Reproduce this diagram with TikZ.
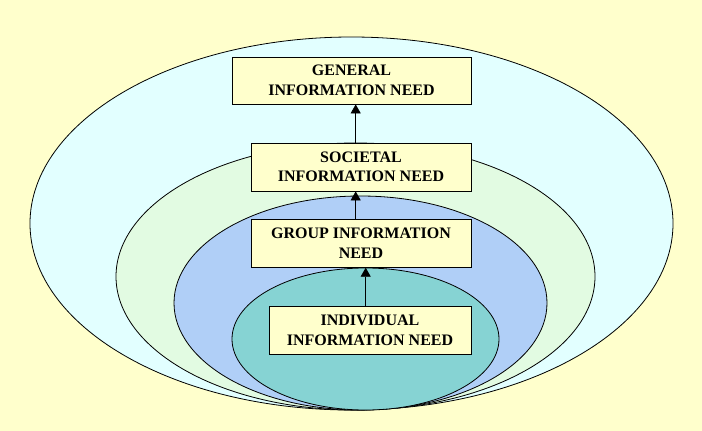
\documentclass[tikz,border=0pt]{standalone}
\usepackage{fontspec}
\setmainfont{Liberation Serif}
\usetikzlibrary{arrows.meta}
\definecolor{pagebg}{HTML}{FFFFCC}
\definecolor{ringA}{HTML}{E2FFFF}
\definecolor{ringB}{HTML}{E2FBE2}
\definecolor{ringC}{HTML}{B0CFF7}
\definecolor{ringD}{HTML}{86D3D3}

\begin{document}
\begin{tikzpicture}[x=1pt,y=-1pt,
    ring/.style={draw=black,line width=0.8pt},
    needbox/.style={draw=black,line width=0.8pt,fill=pagebg,align=center,
        inner sep=0pt,minimum height=48pt,
        font=\fontsize{16}{19.5}\selectfont\bfseries},
    up/.style={draw,line width=0.8pt,-{Triangle[width=10pt,length=9pt]}}]
    % page and margins
    \fill[pagebg] (0,0) rectangle (702,431);
    \useasboundingbox (0,0) rectangle (702,431);
    % nested rings, all touching at the bottom
    \draw[ring,fill=ringA] (351.5,223.5) ellipse [x radius=321.5,y radius=186.5];
    \draw[ring,fill=ringB] (355.5,276.5) ellipse [x radius=239.5,y radius=133.5];
    \draw[ring,fill=ringC] (360.5,303) ellipse [x radius=186.5,y radius=107];
    \draw[ring,fill=ringD] (365.5,339) ellipse [x radius=133.5,y radius=71];
    % boxes
    \node[needbox,minimum width=239pt,minimum height=47pt] (gen) at (351.5,80.5) {GENERAL\\INFORMATION NEED};
    \node[needbox,minimum width=220pt] (soc) at (361,167) {SOCIETAL\\INFORMATION NEED};
    \node[needbox,minimum width=220pt] (grp) at (361,243.3) {GROUP INFORMATION\\NEED};
    \node[needbox,minimum width=202pt] (ind) at (370,330.3) {INDIVIDUAL\\INFORMATION NEED};
    % arrows
    \draw[up] ([xshift=-5.3pt]soc.north) -- ([xshift=-5.3pt]soc.north |- gen.south);
    \draw[up] ([xshift=-5.3pt]grp.north) -- ([xshift=-5.3pt]grp.north |- soc.south);
    \draw[up] ([xshift=-4.3pt]ind.north) -- ([xshift=-4.3pt]ind.north |- grp.south);
\end{tikzpicture}
\end{document}
